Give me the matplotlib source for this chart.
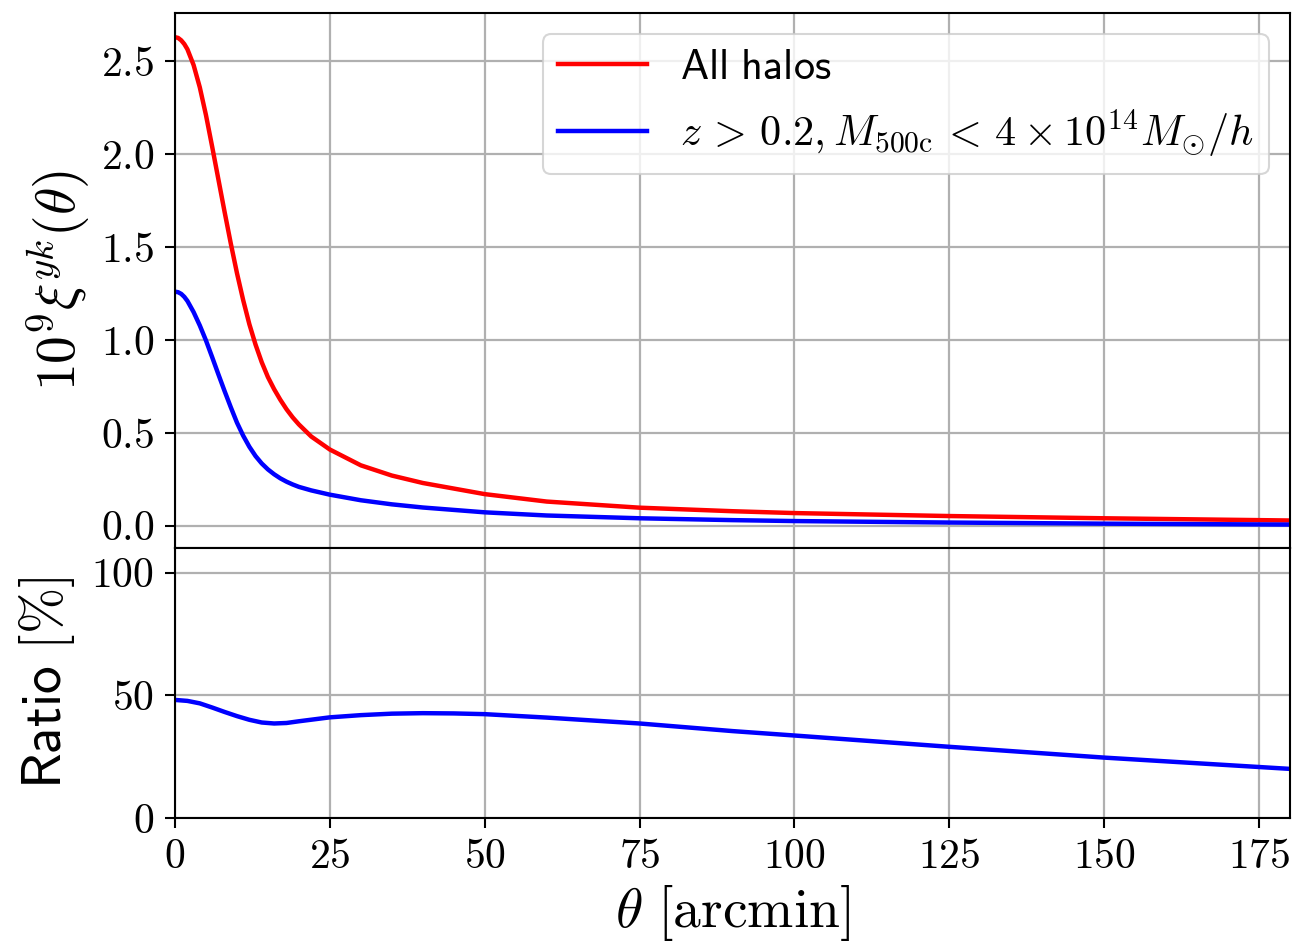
import numpy as np
import matplotlib
matplotlib.use("Agg")
import matplotlib.pyplot as plt
from matplotlib.ticker import FuncFormatter, MultipleLocator

plt.rcParams['mathtext.fontset'] = 'cm'
plt.rcParams['font.family'] = 'serif'
plt.rcParams['font.serif'] = ['cmr10']

# angular separation [arcmin] and cross-correlation (x 1e9)
theta = [0, 0.5, 1, 1.5, 2, 3, 4, 5, 6, 7, 8, 9, 10, 11, 12, 13, 14, 15, 16, 17, 18, 19, 20,
         22, 25, 30, 35, 40, 50, 60, 75, 90, 100, 125, 150, 180]
xi_all = [2.63, 2.626, 2.613, 2.593, 2.565, 2.48, 2.36, 2.21, 2.04, 1.865, 1.69, 1.52, 1.36,
          1.215, 1.085, 0.975, 0.88, 0.80, 0.735, 0.678, 0.627, 0.583, 0.545, 0.48, 0.41,
          0.325, 0.27, 0.23, 0.17, 0.13, 0.097, 0.078, 0.068, 0.052, 0.040, 0.028]
xi_cut = [1.26, 1.257, 1.248, 1.232, 1.21, 1.15, 1.078, 0.997, 0.907, 0.815, 0.725, 0.638,
          0.555, 0.485, 0.425, 0.375, 0.335, 0.303, 0.277, 0.255, 0.237, 0.222, 0.209, 0.19,
          0.167, 0.137, 0.115, 0.098, 0.072, 0.055, 0.04, 0.03, 0.025, 0.017, 0.011, 0.006]

theta_r = [0, 2, 4, 6, 8, 10, 12, 14, 16, 18, 20, 25, 30, 35, 40, 45, 50, 60, 75, 90,
           100, 125, 150, 180]
ratio = [48.1, 47.7, 46.7, 45.0, 43.2, 41.5, 40.0, 38.9, 38.5, 38.7, 39.4, 41.0, 41.9,
         42.5, 42.7, 42.6, 42.3, 40.9, 38.5, 35.4, 33.6, 29.0, 24.6, 20.0]

labels = [r'$\mathsf{All\ halos}$',
          r'$z\,>\,0.2, M_{500\mathrm{c}}\,<\,4\times10^{14}M_{\odot}/h$']

fig = plt.figure(figsize=(13.1, 9.44), dpi=100)
ax1 = fig.add_axes([0.1336, 0.4195, 0.8511, 0.5667])
ax2 = fig.add_axes([0.1336, 0.1335, 0.8511, 0.2860], sharex=ax1)

ax1.plot(theta, xi_all, color='red', lw=3.2, label=labels[0])
ax1.plot(theta, xi_cut, color='blue', lw=3.2, label=labels[1])
ax2.plot(theta_r, ratio, color='blue', lw=3.2)

ax1.set_xlim(0, 180)
ax1.set_ylim(-0.12, 2.76)
ax2.set_ylim(0, 110)

ax1.yaxis.set_major_locator(MultipleLocator(0.5))
ax2.yaxis.set_major_locator(MultipleLocator(50))
ax2.xaxis.set_major_locator(MultipleLocator(25))
ax1.yaxis.set_major_formatter(FuncFormatter(lambda v, p: f'${v:.1f}$'))
ax2.yaxis.set_major_formatter(FuncFormatter(lambda v, p: f'${v:.0f}$'))
ax2.xaxis.set_major_formatter(FuncFormatter(lambda v, p: f'${v:.0f}$'))

for ax in (ax1, ax2):
    ax.grid(True, color='#b0b0b0', lw=1.6)
    ax.tick_params(labelsize=30, width=1.5, length=7, pad=8)
    for s in ax.spines.values():
        s.set_linewidth(1.5)
ax1.tick_params(axis='x', bottom=False, labelbottom=False)

ax1.set_ylabel(r'$10^9\xi^{yk}(\theta)$', fontsize=40, labelpad=6)
ax2.set_ylabel(r'$\mathsf{Ratio}\ [\%]$', fontsize=40, labelpad=10)
ax2.set_xlabel(r'$\theta\ [\mathrm{arcmin}]$', fontsize=40, labelpad=5)
fig.align_ylabels([ax1, ax2])

leg = ax1.legend(loc='upper right', fontsize=30.5, handlelength=2.1,
                 framealpha=0.8, edgecolor='#cccccc', borderpad=0.35)
leg.get_frame().set_linewidth(1.5)

fig.savefig('out.png', dpi=100)
